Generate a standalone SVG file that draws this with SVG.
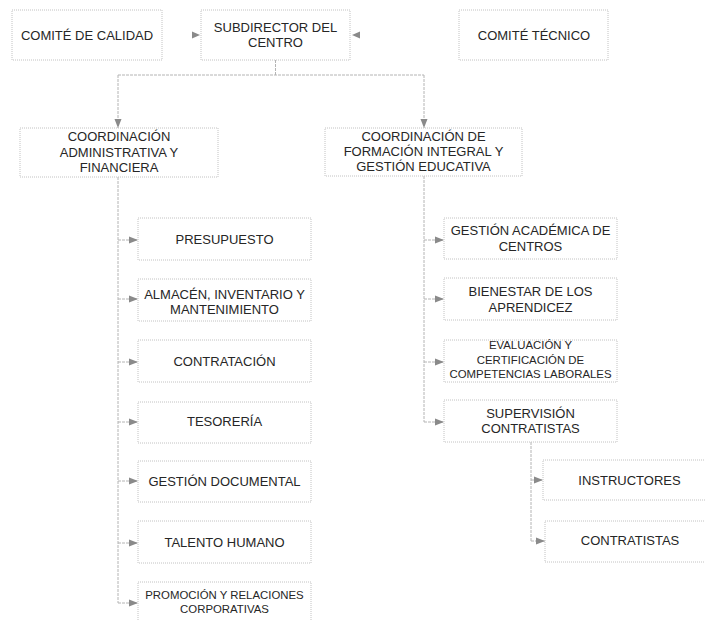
<svg xmlns="http://www.w3.org/2000/svg" width="705" height="620" viewBox="0 0 705 620">
<style>
.box{fill:#fff;stroke:#c2c2c2;stroke-width:1;stroke-dasharray:1 1}
.t{font-family:"Liberation Sans",Arial,sans-serif;font-size:13px;fill:#262626;text-anchor:middle}
.s{font-size:11.4px}
.c{fill:none;stroke:#b4b4b4;stroke-width:1;stroke-dasharray:3 1}
.ah{fill:#8a8a8a}
</style>
<defs>
<marker id="ar" markerUnits="userSpaceOnUse" markerWidth="10" markerHeight="8" refX="9" refY="4" orient="auto">
<path d="M0,0.5 L9,4 L0,7.5 z" fill="#8a8a8a"/>
</marker>
</defs>
<rect width="705" height="620" fill="#fff"/>
<g id="connectors">
<polygon class="ah" points="192,31.5 200,35 192,38.5"/>
<polygon class="ah" points="360,31.5 352,35 360,38.5"/>
<path class="c" d="M275.5,60 V75"/>
<path class="c" d="M118,75 H424"/>
<path class="c" d="M118,75 V128" marker-end="url(#ar)"/>
<path class="c" d="M424,75 V128" marker-end="url(#ar)"/>
<path class="c" d="M118,177 V603"/>
<path class="c" d="M118,240 H138" marker-end="url(#ar)"/>
<path class="c" d="M118,299 H138" marker-end="url(#ar)"/>
<path class="c" d="M118,362 H138" marker-end="url(#ar)"/>
<path class="c" d="M118,422 H138" marker-end="url(#ar)"/>
<path class="c" d="M118,481 H138" marker-end="url(#ar)"/>
<path class="c" d="M118,543 H138" marker-end="url(#ar)"/>
<path class="c" d="M118,603 H138" marker-end="url(#ar)"/>
<path class="c" d="M424,176 V422"/>
<path class="c" d="M424,240 H444" marker-end="url(#ar)"/>
<path class="c" d="M424,299 H444" marker-end="url(#ar)"/>
<path class="c" d="M424,362 H444" marker-end="url(#ar)"/>
<path class="c" d="M424,422 H444" marker-end="url(#ar)"/>
<path class="c" d="M531,442 V541"/>
<path class="c" d="M531,480 H543" marker-end="url(#ar)"/>
<path class="c" d="M531,541 H545" marker-end="url(#ar)"/>
</g>
<g id="comite-calidad"><rect class="box" x="12" y="10" width="150" height="50"/><text class="t" x="87" y="39.5">COMITÉ DE CALIDAD</text></g>
<g id="subdirector"><rect class="box" x="201" y="10" width="149" height="50"/><text class="t" x="275.5" y="32">SUBDIRECTOR DEL</text><text class="t" x="275.5" y="47">CENTRO</text></g>
<g id="comite-tecnico"><rect class="box" x="459" y="10" width="149" height="50"/><text class="t" x="534" y="39.5">COMITÉ TÉCNICO</text></g>
<g id="coord-admin"><rect class="box" x="20" y="128" width="198" height="49"/><text class="t" x="119" y="141">COORDINACIÓN</text><text class="t" x="119" y="156.5">ADMINISTRATIVA Y</text><text class="t" x="119" y="172">FINANCIERA</text></g>
<g id="coord-formacion"><rect class="box" x="325" y="128" width="197" height="48"/><text class="t" x="423.5" y="140.5">COORDINACIÓN DE</text><text class="t" x="423.5" y="155.5">FORMACIÓN INTEGRAL Y</text><text class="t" x="423.5" y="170.5">GESTIÓN EDUCATIVA</text></g>
<g id="presupuesto"><rect class="box" x="138" y="218" width="173" height="42"/><text class="t" x="224.5" y="243.5">PRESUPUESTO</text></g>
<g id="almacen"><rect class="box" x="138" y="279" width="173" height="42"/><text class="t" x="224.5" y="298.5">ALMACÉN, INVENTARIO Y</text><text class="t" x="224.5" y="313.5">MANTENIMIENTO</text></g>
<g id="contratacion"><rect class="box" x="138" y="340" width="173" height="42"/><text class="t" x="224.5" y="365.5">CONTRATACIÓN</text></g>
<g id="tesoreria"><rect class="box" x="138" y="402" width="173" height="41"/><text class="t" x="224.5" y="426">TESORERÍA</text></g>
<g id="gestion-documental"><rect class="box" x="138" y="461" width="173" height="41"/><text class="t" x="224.5" y="485.5">GESTIÓN DOCUMENTAL</text></g>
<g id="talento-humano"><rect class="box" x="138" y="521" width="173" height="42"/><text class="t" x="224.5" y="546.5">TALENTO HUMANO</text></g>
<g id="promocion"><rect class="box" x="138" y="582" width="173" height="44"/><text class="t s" x="224.5" y="599">PROMOCIÓN Y RELACIONES</text><text class="t s" x="224.5" y="613">CORPORATIVAS</text></g>
<g id="gestion-academica"><rect class="box" x="444" y="218" width="173" height="41"/><text class="t" x="530.5" y="234.5">GESTIÓN ACADÉMICA DE</text><text class="t" x="530.5" y="250.5">CENTROS</text></g>
<g id="bienestar"><rect class="box" x="444" y="278" width="173" height="42"/><text class="t" x="530.5" y="295.5">BIENESTAR DE LOS</text><text class="t" x="530.5" y="311.5">APRENDICEZ</text></g>
<g id="evaluacion"><rect class="box" x="444" y="340" width="173" height="42"/><text class="t s" x="530.5" y="349">EVALUACIÓN Y</text><text class="t s" x="530.5" y="364">CERTIFICACIÓN DE</text><text class="t s" x="530.5" y="378">COMPETENCIAS LABORALES</text></g>
<g id="supervision"><rect class="box" x="444" y="400" width="173" height="42"/><text class="t" x="530.5" y="417.5">SUPERVISIÓN</text><text class="t" x="530.5" y="432.5">CONTRATISTAS</text></g>
<g id="instructores"><rect class="box" x="543" y="460" width="175" height="40"/><text class="t" x="629.5" y="484.5">INSTRUCTORES</text></g>
<g id="contratistas"><rect class="box" x="545" y="521" width="173" height="41"/><text class="t" x="630" y="545">CONTRATISTAS</text></g>
</svg>
